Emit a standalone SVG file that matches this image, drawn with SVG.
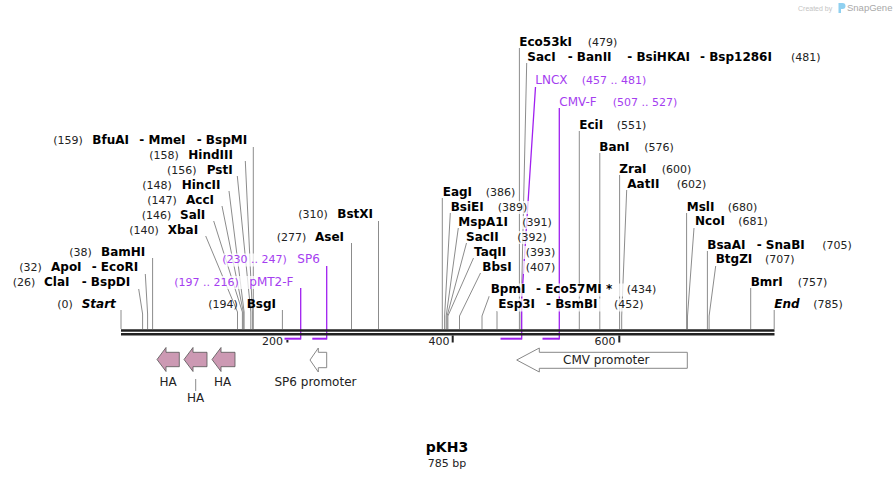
<svg xmlns="http://www.w3.org/2000/svg" width="896" height="479" viewBox="0 0 896 479">
<style>
text{font-family:"DejaVu Sans",Verdana,sans-serif;}
.n{font-size:11px;fill:#222;}
.b{font-size:12px;font-weight:bold;fill:#000;}
.bi{font-size:12px;font-weight:bold;font-style:italic;fill:#000;}
.p{font-size:12px;fill:#a53ef0;}
.pn{font-size:11px;fill:#a53ef0;}
.f{font-size:12px;fill:#222;}
.ln{fill:none;stroke:#8c8c8c;stroke-width:1;}
.pl{fill:none;stroke:#a020f0;stroke-width:1.3;}
.ph{fill:none;stroke:#a020f0;stroke-width:2;}
.bg{fill:#fff;fill-opacity:0.75;}
.ha{fill:#cc99b3;stroke:#555;stroke-width:0.8;}
.pr{fill:#fff;stroke:#888;stroke-width:1;}
.bb{stroke:#222;stroke-width:2.4;}
.tk{stroke:#222;stroke-width:2;}
</style>
<rect width="896" height="479" fill="#fff"/>
<g id="watermark">
<text x="798" y="11" style="font-size:7px;fill:#c4c4c4;font-family:'Liberation Sans',Arial,sans-serif">Created by</text>
<path d="M838.5 3 h4 a3 3 0 0 1 0 6 h-1.5 v4 h-2.5 z" fill="#8fd0f0"/>
<text x="847" y="11" style="font-size:9.5px;fill:#a8a8a8;font-family:'Liberation Sans',Arial,sans-serif">SnapGene</text>
</g>
<g id="connectors">
<path class="ln" d="M121 310V329"/>
<path class="ln" d="M138.7 289L142.6 314V329"/>
<path class="ln" d="M145.3 274L147.6 314V329"/>
<path class="ln" d="M152.6 258V329"/>
<path class="ln" d="M205.7 236L237.5 312V329"/>
<path class="ln" d="M213.7 221L242.4 312V329"/>
<path class="ln" d="M222 206L243.3 312V329"/>
<path class="ln" d="M229 191L244.1 312V329"/>
<path class="ln" d="M237.3 176L250.8 312V329"/>
<path class="ln" d="M245.3 161L252.4 312V329"/>
<path class="ln" d="M253.3 147V329"/>
<path class="ln" d="M282.4 310V329"/>
<path class="ln" d="M351.5 243V329"/>
<path class="ln" d="M378.5 221V329"/>
<path class="ln" d="M442.3 198V329"/>
<path class="ln" d="M450.3 213L444.6 316V329"/>
<path class="ln" d="M458.3 228L446.2 316V329"/>
<path class="ln" d="M466.5 243L447.1 316V329"/>
<path class="ln" d="M473.5 258L447.9 316V329"/>
<path class="ln" d="M480.5 273L459.5 316V329"/>
<path class="ln" d="M489.3 296L482 316V329"/>
<path class="ln" d="M497 311V329"/>
<path class="ln" d="M519.4 48V329"/>
<path class="ln" d="M526.7 63L521.1 316V329"/>
<path class="ln" d="M579.3 131V329"/>
<path class="ln" d="M599.8 153V329"/>
<path class="ln" d="M619.6 175V329"/>
<path class="ln" d="M626.7 190L621.7 316V329"/>
<path class="ln" d="M686.6 213V329"/>
<path class="ln" d="M694 228L687.5 316V329"/>
<path class="ln" d="M707.4 251V329"/>
<path class="ln" d="M715.7 266L709.1 316V329"/>
<path class="ln" d="M750.7 288V329"/>
<path class="ln" d="M774.2 310V329"/>
<path class="ph" d="M284.5 338.7H300.7"/>
<path class="pl" d="M300.7 339.5V288"/>
<path class="ph" d="M312.3 338.7H326.7"/>
<path class="pl" d="M326.7 339.5V266"/>
<path class="ph" d="M500.5 338.7H521.7"/>
<path class="pl" d="M521.7 339.5V300L535.5 87"/>
<path class="ph" d="M542.5 338.7H559.3"/>
<path class="pl" d="M559.3 339.5V108"/>
<path class="ln" d="M195.7 379V391"/>
</g>
<g id="backbone">
<line class="bb" x1="121" y1="330.5" x2="774.5" y2="330.5"/>
<line class="bb" x1="121" y1="334.2" x2="774.5" y2="334.2"/>
<line class="tk" x1="287.4" y1="340" x2="287.4" y2="342.5"/>
<line class="tk" x1="452.7" y1="335.5" x2="452.7" y2="342.5"/>
<line class="tk" x1="619.3" y1="335.5" x2="619.3" y2="342.5"/>
<text class="n" x="283" y="345" text-anchor="end">200</text>
<text class="n" x="449.5" y="345" text-anchor="end">400</text>
<text class="n" x="615.5" y="345" text-anchor="end">600</text>
</g>
<g id="start"><text class="n" x="57.3" y="308.3">(0)</text><text class="bi" x="81.7" y="308.3">Start</text></g>
<g id="claI"><text class="n" x="12.7" y="285.7">(26)</text><text class="b" x="44" y="285.7">ClaI</text><text class="b" x="81.7" y="285.7">- BspDI</text></g>
<g id="apoI"><text class="n" x="19.3" y="270.7">(32)</text><text class="b" x="51" y="270.7">ApoI</text><text class="b" x="91.7" y="270.7">- EcoRI</text></g>
<g id="bamHI"><text class="n" x="69.3" y="255.7">(38)</text><text class="b" x="101" y="255.7">BamHI</text></g>
<g id="xbaI"><text class="n" x="129.3" y="233.7">(140)</text><text class="b" x="167.7" y="233.7">XbaI</text></g>
<g id="salI"><text class="n" x="141.7" y="218.7">(146)</text><text class="b" x="180" y="218.7">SalI</text></g>
<g id="accI"><text class="n" x="147.3" y="203.7">(147)</text><text class="b" x="186" y="203.7">AccI</text></g>
<g id="hincII"><text class="n" x="142.3" y="188.7">(148)</text><text class="b" x="181.7" y="188.7">HincII</text></g>
<g id="pstI"><text class="n" x="167" y="173.7">(156)</text><text class="b" x="206.7" y="173.7">PstI</text></g>
<g id="hindIII"><text class="n" x="149.3" y="158.7">(158)</text><text class="b" x="188.3" y="158.7">HindIII</text></g>
<g id="bfuAI"><text class="n" x="53.3" y="143.7">(159)</text><text class="b" x="92.3" y="143.7">BfuAI</text><text class="b" x="139.3" y="143.7">- MmeI</text><text class="b" x="196.7" y="143.7">- BspMI</text></g>
<g id="bsgI"><text class="n" x="208.3" y="308.3">(194)</text><text class="b" x="246.7" y="308.3">BsgI</text></g>
<g id="pMT2-F"><rect class="bg" x="173" y="276" width="123" height="13"/><text class="pn" x="174.3" y="285.7">(197 .. 216)</text><text class="p" x="249.3" y="285.7">pMT2-F</text></g>
<g id="sp6"><rect class="bg" x="221" y="253.5" width="101" height="13"/><text class="pn" x="222.3" y="263.3">(230 .. 247)</text><text class="p" x="297.3" y="263.3">SP6</text></g>
<g id="aseI"><text class="n" x="276.7" y="240.7">(277)</text><text class="b" x="315" y="240.7">AseI</text></g>
<g id="bstXI"><text class="n" x="298.3" y="218.3">(310)</text><text class="b" x="337.3" y="218.3">BstXI</text></g>
<g id="eagI"><text class="b" x="442.7" y="195.7">EagI</text><text class="n" x="485.7" y="195.7">(386)</text></g>
<g id="bsiEI"><rect class="bg" x="496" y="201" width="34" height="13"/><text class="b" x="450.7" y="210.7">BsiEI</text><text class="n" x="497.7" y="210.7">(389)</text></g>
<g id="mspA1I"><rect class="bg" x="520" y="216" width="35" height="13"/><text class="b" x="458.3" y="225.7">MspA1I</text><text class="n" x="522.3" y="225.7">(391)</text></g>
<g id="sacII"><rect class="bg" x="515" y="231" width="35" height="13"/><text class="b" x="466" y="240.7">SacII</text><text class="n" x="517.3" y="240.7">(392)</text></g>
<g id="taqII"><rect class="bg" x="523" y="246" width="35" height="13"/><text class="b" x="474" y="255.7">TaqII</text><text class="n" x="525.7" y="255.7">(393)</text></g>
<g id="bbsI"><rect class="bg" x="523" y="261" width="35" height="13"/><text class="b" x="482.3" y="270.7">BbsI</text><text class="n" x="525.7" y="270.7">(407)</text></g>
<g id="bpmI"><rect class="bg" x="489" y="283.5" width="170" height="13"/><text class="b" x="490.7" y="293.3">BpmI</text><text class="b" x="536" y="293.3">- Eco57MI *</text><text class="n" x="626.7" y="293.3">(434)</text></g>
<g id="esp3I"><rect class="bg" x="497" y="298.5" width="149" height="13"/><text class="b" x="498.3" y="308.3">Esp3I</text><text class="b" x="546" y="308.3">- BsmBI</text><text class="n" x="614" y="308.3">(452)</text></g>
<g id="eco53kI"><text class="b" x="519.3" y="46">Eco53kI</text><text class="n" x="587.7" y="46">(479)</text></g>
<g id="sacI"><text class="b" x="527.3" y="60.7">SacI</text><text class="b" x="567.7" y="60.7">- BanII</text><text class="b" x="627.3" y="60.7">- BsiHKAI</text><text class="b" x="700" y="60.7">- Bsp1286I</text><text class="n" x="791" y="60.7">(481)</text></g>
<g id="lncx"><text class="p" x="535.3" y="84">LNCX</text><text class="pn" x="581.7" y="84">(457 .. 481)</text></g>
<g id="cmv-F"><text class="p" x="559.3" y="106">CMV-F</text><text class="pn" x="612.7" y="106">(507 .. 527)</text></g>
<g id="eciI"><text class="b" x="579.3" y="129">EciI</text><text class="n" x="616.7" y="129">(551)</text></g>
<g id="banI"><text class="b" x="599.3" y="151">BanI</text><text class="n" x="644.3" y="151">(576)</text></g>
<g id="zraI"><text class="b" x="619.3" y="173.3">ZraI</text><text class="n" x="661.7" y="173.3">(600)</text></g>
<g id="aatII"><text class="b" x="627.3" y="187.7">AatII</text><text class="n" x="676.7" y="187.7">(602)</text></g>
<g id="mslI"><text class="b" x="686.7" y="211">MslI</text><text class="n" x="727.7" y="211">(680)</text></g>
<g id="ncoI"><text class="b" x="695" y="225.3">NcoI</text><text class="n" x="738.3" y="225.3">(681)</text></g>
<g id="bsaAI"><text class="b" x="707.3" y="248.7">BsaAI</text><text class="b" x="756.7" y="248.7">- SnaBI</text><text class="n" x="822.3" y="248.7">(705)</text></g>
<g id="btgZI"><text class="b" x="715.7" y="263.3">BtgZI</text><text class="n" x="765" y="263.3">(707)</text></g>
<g id="bmrI"><text class="b" x="750.7" y="285.7">BmrI</text><text class="n" x="797.7" y="285.7">(757)</text></g>
<g id="end"><text class="bi" x="774.3" y="308.3">End</text><text class="n" x="813.3" y="308.3">(785)</text></g>
<g id="ha1"><path class="ha" d="M157 359.5L166 347.5V352.3H179.3V366.7H166V371.5Z"/><text class="f" x="168" y="386" text-anchor="middle">HA</text></g>
<g id="ha2"><path class="ha" d="M184 359.5L193 347.5V352.3H207V366.7H193V371.5Z"/><text class="f" x="195.7" y="402" text-anchor="middle">HA</text></g>
<g id="ha3"><path class="ha" d="M212 359.5L221 347.5V352.3H235V366.7H221V371.5Z"/><text class="f" x="222.5" y="386" text-anchor="middle">HA</text></g>
<g id="sp6promoter"><path class="pr" d="M310 360L318.3 348V352.3H326.7V367.7H318.3V372Z"/><text class="f" x="315.5" y="386" text-anchor="middle">SP6 promoter</text></g>
<g id="cmvpromoter"><path class="pr" d="M516.7 360L539.3 348V352.3H687.3V368.3H539.3V372Z"/><text class="f" x="606.3" y="364" text-anchor="middle">CMV promoter</text></g>
<g id="title"><text x="447" y="452.3" text-anchor="middle" style="font-size:14px;font-weight:bold;fill:#000">pKH3</text><text x="447" y="466.7" text-anchor="middle" style="font-size:11px;fill:#222">785 bp</text></g>
</svg>
